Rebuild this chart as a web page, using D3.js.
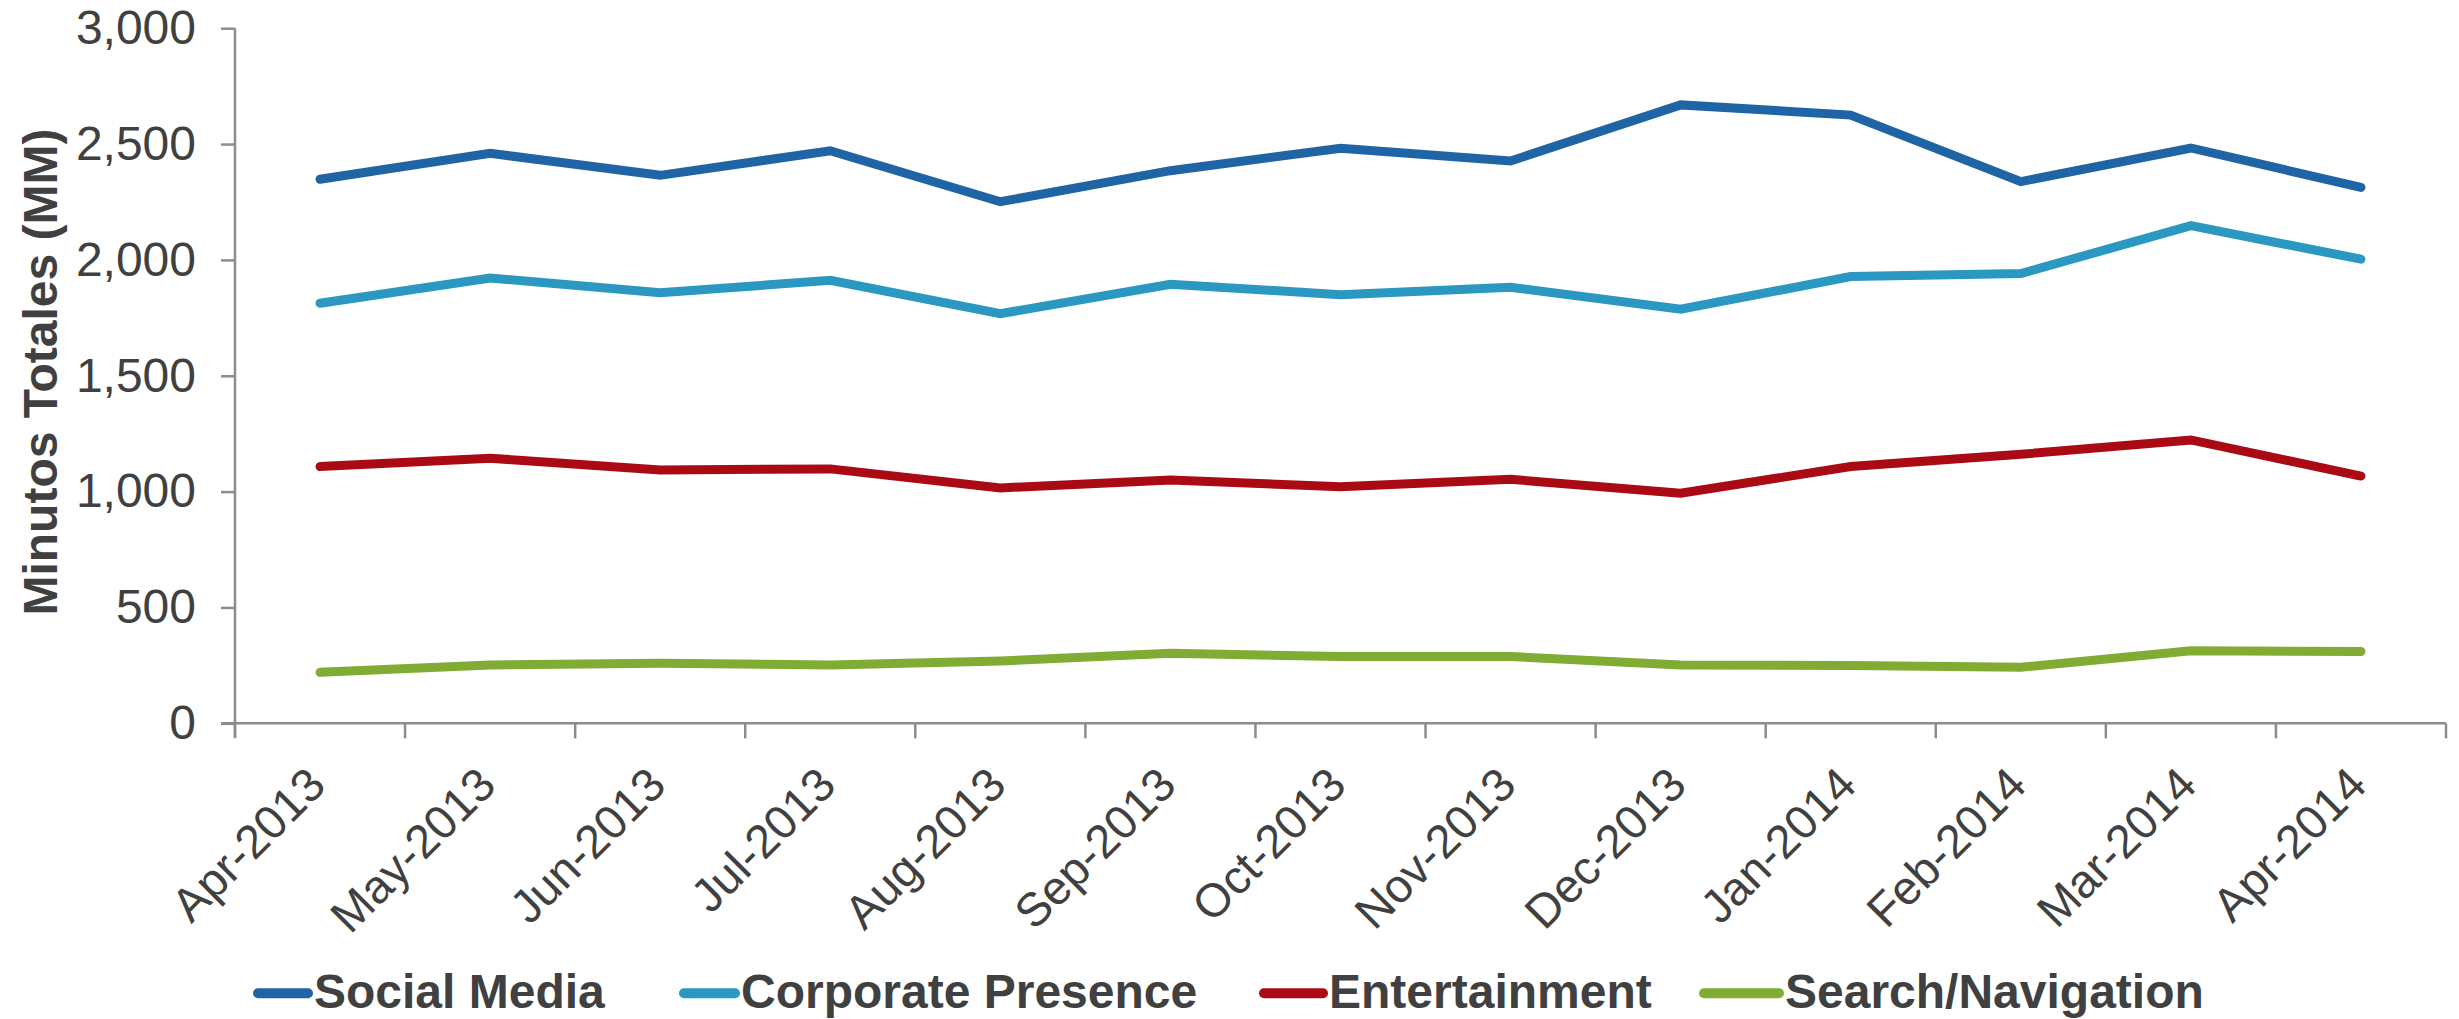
<!DOCTYPE html>
<html>
<head>
<meta charset="utf-8">
<script src="https://cdn.jsdelivr.net/npm/d3@7"></script>
<style>
  html, body { margin: 0; padding: 0; background: #fff; }
  svg { display: block; }
</style>
</head>
<body>
<svg id="chart" width="2459" height="1019"></svg>
<script>
const categories = ["Apr-2013","May-2013","Jun-2013","Jul-2013","Aug-2013","Sep-2013","Oct-2013","Nov-2013","Dec-2013","Jan-2014","Feb-2014","Mar-2014","Apr-2014"];
const socialMedia = [2348, 2460, 2365, 2471, 2251, 2385, 2482, 2427, 2669, 2625, 2338, 2483, 2313];
const corporatePresence = [1813, 1922, 1858, 1912, 1768, 1895, 1850, 1882, 1787, 1928, 1941, 2148, 2003];
const entertainment = [1108, 1144, 1093, 1098, 1016, 1050, 1021, 1053, 993, 1108, 1161, 1223, 1067];
const searchNavigation = [220, 252, 259, 252, 269, 302, 288, 288, 252, 249, 242, 313, 310];
const seriesNames = ["Social Media", "Corporate Presence", "Entertainment", "Search/Navigation"];
const seriesColors = ["#1F64A4", "#2A98C0", "#AA0A14", "#80AC34"];
const yTicks = [0, 500, 1000, 1500, 2000, 2500, 3000];
const yTitle = "Minutos Totales (MM)";

const series = [socialMedia, corporatePresence, entertainment, searchNavigation];

const svg = d3.select("#chart");
const pLeft = 235, pRight = 2446, pTop = 28.2, pBottom = 723.3;
const textColor = "#404040";
const axisColor = "#8c8c8c";
const font = "'Liberation Sans', Arial, sans-serif";

const x = d3.scaleBand().domain(categories).range([pLeft, pRight]).padding(0);
const y = d3.scaleLinear().domain([0, 3000]).range([pBottom, pTop]);

// Y axis
const yAxis = svg.append("g").attr("transform", `translate(${pLeft},0)`)
  .call(d3.axisLeft(y).tickValues(yTicks).tickFormat(d3.format(",")).tickSize(14).tickPadding(25));
yAxis.select(".domain").attr("stroke", axisColor).attr("stroke-width", 2.5).attr("d", `M0,${pTop}V${pBottom+14}`);
yAxis.selectAll(".tick line").attr("stroke", axisColor).attr("stroke-width", 2.5);
yAxis.selectAll(".tick text").attr("fill", textColor).style("font-family", font).style("font-size", "48px");

// X axis
const xAxis = svg.append("g").attr("transform", `translate(0,${pBottom})`)
  .call(d3.axisBottom(x).tickSize(0).tickFormat(""));
xAxis.select(".domain").attr("stroke", axisColor).attr("stroke-width", 2.5).attr("d", `M${pLeft-14},0H${pRight}`);
xAxis.selectAll(".tick").remove();
const bounds = categories.map(c => x(c)).concat([pRight]);
xAxis.selectAll("line.bt").data(bounds).enter().append("line")
  .attr("x1", d => d).attr("x2", d => d).attr("y1", 0).attr("y2", 15)
  .attr("stroke", axisColor).attr("stroke-width", 2.5);
xAxis.selectAll("text.xl").data(categories).enter().append("text")
  .attr("transform", d => `translate(${x(d) + x.bandwidth()/2 - 3.6},${52.5}) rotate(-45)`)
  .attr("text-anchor", "end")
  .attr("dy", "0.35em")
  .attr("fill", textColor)
  .style("font-family", font).style("font-size", "47px")
  .text(d => d);

// Y title
svg.append("text")
  .attr("transform", `translate(${40},${372}) rotate(-90)`)
  .attr("text-anchor", "middle").attr("dy", "0.35em")
  .attr("fill", textColor)
  .style("font-family", font).style("font-size", "48px").style("font-weight", "bold")
  .text(yTitle);

// Lines
const line = d3.line().x((d, i) => x(categories[i]) + x.bandwidth()/2).y(d => y(d));
svg.append("g").selectAll("path").data(series).enter().append("path")
  .attr("d", d => line(d))
  .attr("fill", "none")
  .attr("stroke", (d, i) => seriesColors[i])
  .attr("stroke-width", 9)
  .attr("stroke-linejoin", "miter")
  .attr("stroke-linecap", "round");

// Legend
const legendItems = [
  {sx: 256, tx: 314},
  {sx: 682, tx: 741},
  {sx: 1262, tx: 1329},
  {sx: 1702, tx: 1785}
];
const lg = svg.append("g");
const legendY = 991.5;
seriesNames.forEach((name, i) => {
  lg.append("line")
    .attr("x1", legendItems[i].sx + 2).attr("x2", legendItems[i].tx - 6)
    .attr("y1", 993.3).attr("y2", 993.3)
    .attr("stroke", seriesColors[i]).attr("stroke-width", 10).attr("stroke-linecap", "round");
  lg.append("text")
    .attr("x", legendItems[i].tx).attr("y", legendY)
    .attr("dy", "0.35em")
    .attr("fill", textColor)
    .style("font-family", font).style("font-size", "48px").style("font-weight", "bold")
    .text(name);
});
</script>
</body>
</html>
